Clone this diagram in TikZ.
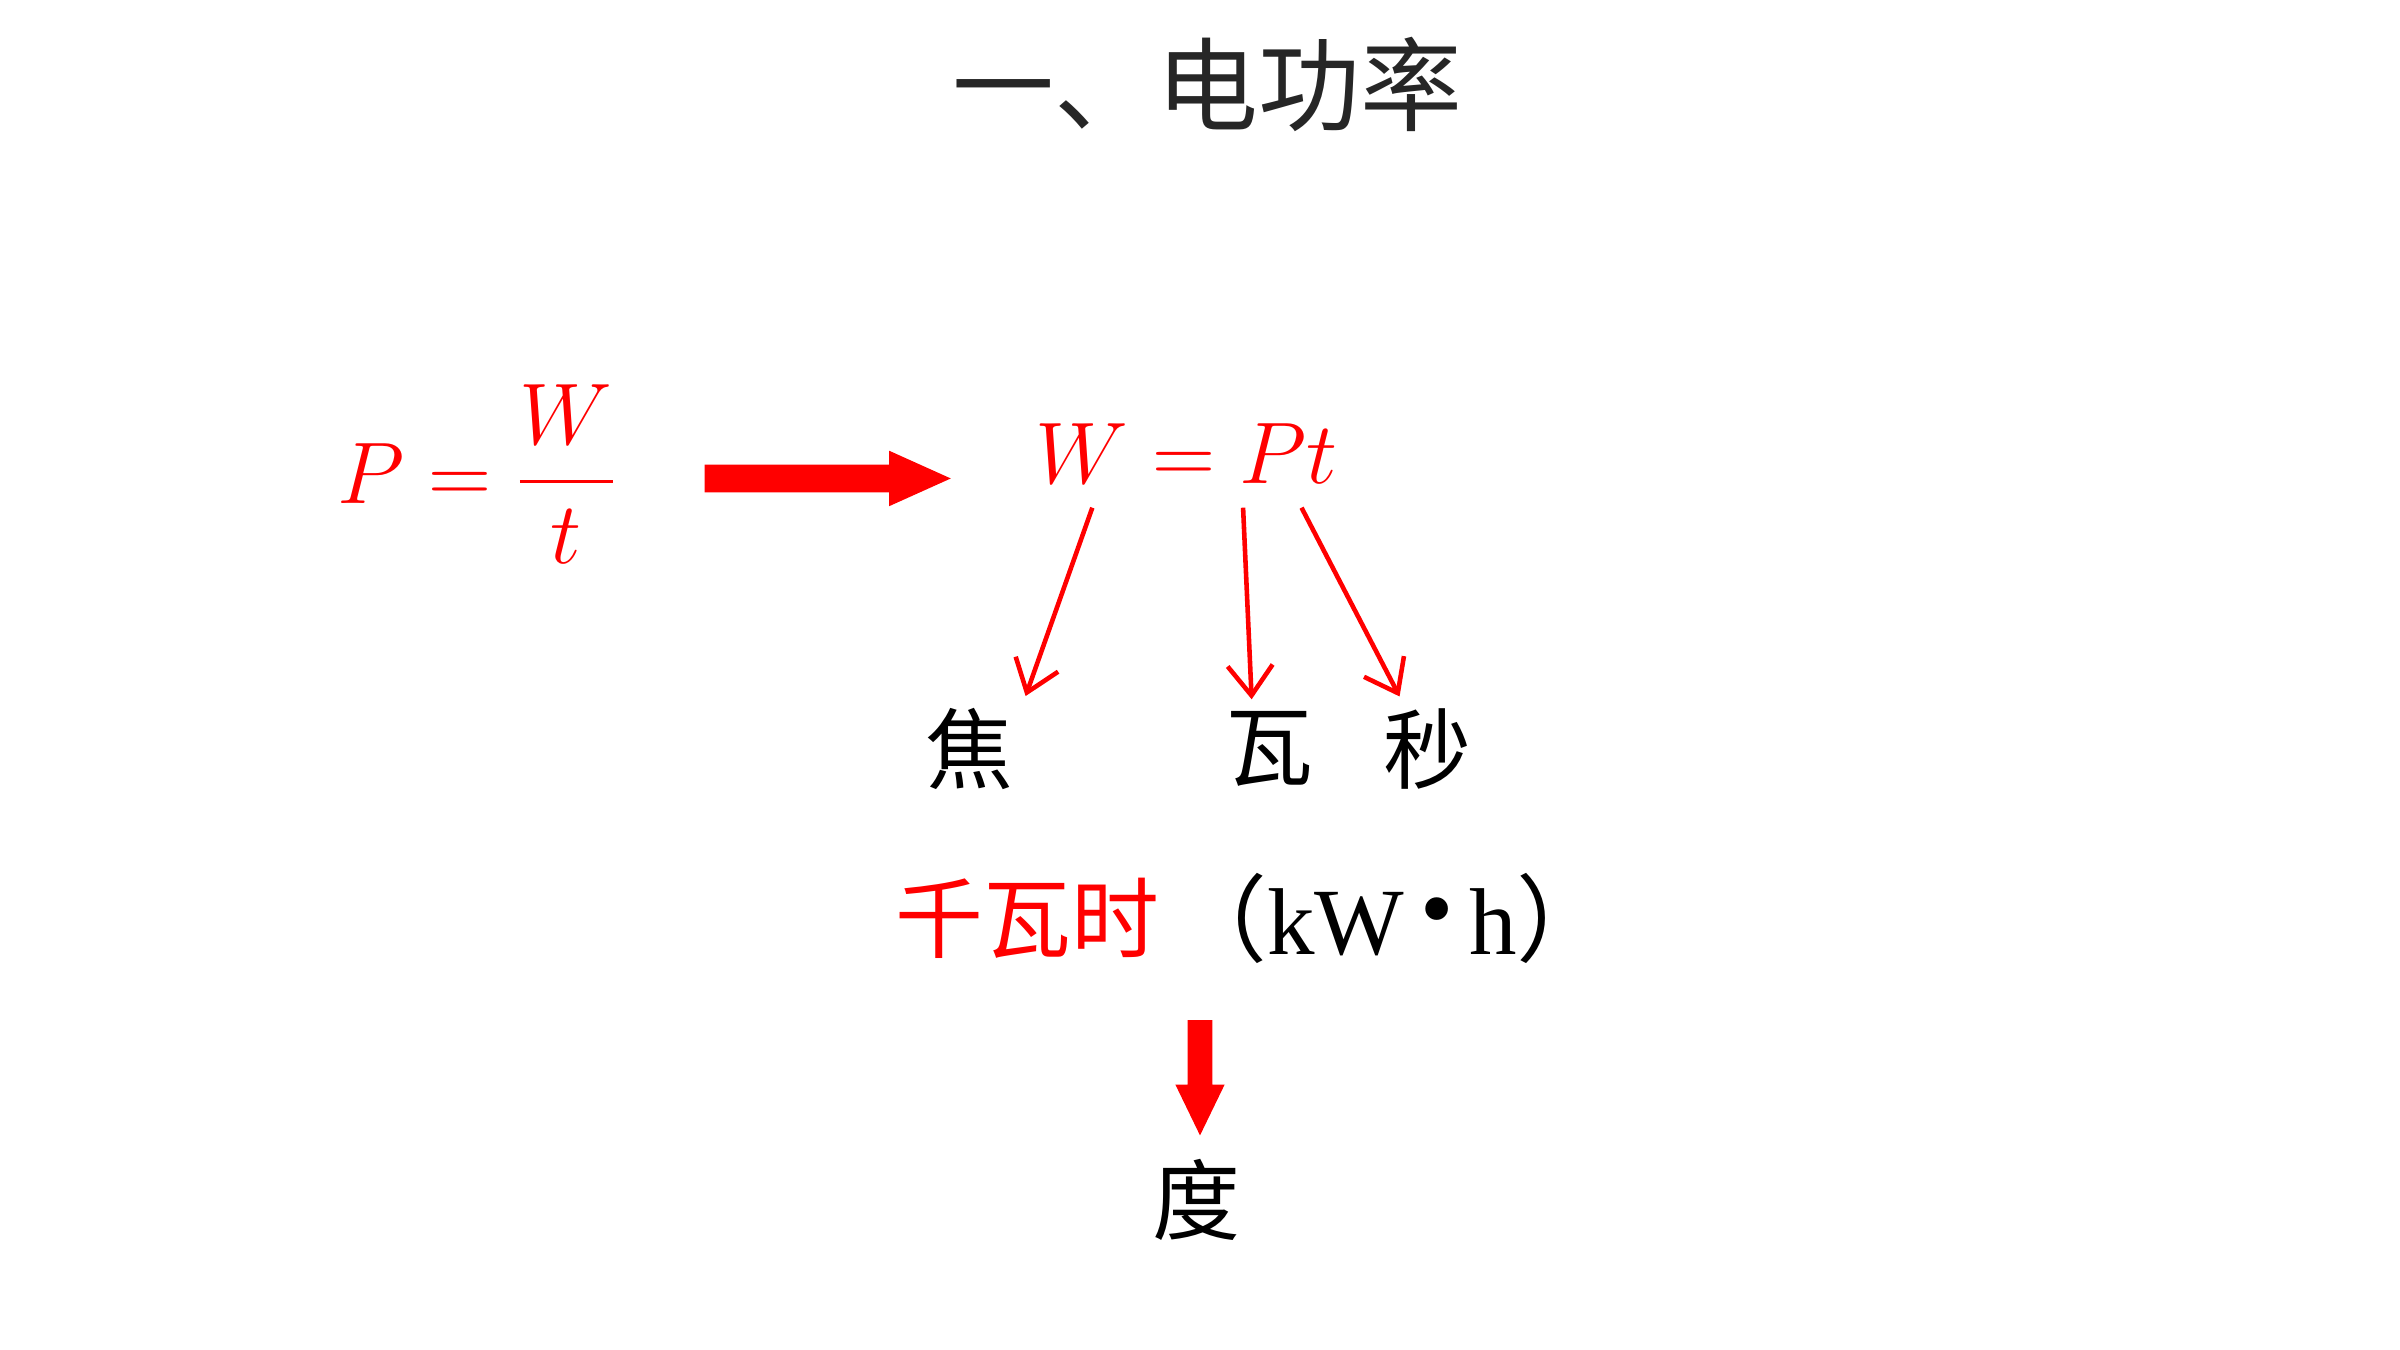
\documentclass[tikz,border=0pt]{standalone}
\usepackage{amsmath}
\usepackage{fontspec}
\setmainfont{Liberation Serif}
\newfontfamily\cjk{Noto Sans CJK SC}
\usetikzlibrary{arrows.meta}
\definecolor{fred}{RGB}{255,0,0}
\definecolor{tgray}{RGB}{38,38,38}
\tikzset{
    cn/.style={font=\cjk\fontsize{25}{25}\selectfont},
    fm/.style={text=fred,font=\fontsize{25}{25}\selectfont},
    thin arrow/.style={fred,line width=1.3pt,-{Straight Barb[length=3mm,width=4.5mm]}},
    fat arrow/.style={fill=fred,draw=none}
}
\begin{document}
\begin{tikzpicture}[x=0.01538cm,y=-0.01538cm]
    \useasboundingbox (0,0) rectangle (1560,877);

    % title
    \node[cn,text=tgray,font=\cjk\fontsize{29}{29}\selectfont] (title) at (785,55) {一、电功率};

    % formulas
    \node[fm] (pdef) at (310,308) {$P=\dfrac{W}{t}$};
    \node[fm] (wdef) at (771,295) {$W=Pt$};

    % big right arrow
    \fill[fat arrow] (458,302) -- (578,302) -- (578,293) -- (618,311)
        -- (578,329) -- (578,320) -- (458,320) -- cycle;

    % units
    \node[cn] (joule) at (630,487) {焦};
    \node[cn] (watt) at (825,487) {瓦};
    \node[cn] (sec) at (928,487) {秒};
    \coordinate (fw) at (710,330);
    \coordinate (fp) at (808,330);
    \coordinate (ft) at (846,330);
    \draw[thin arrow] (fw) -- (joule.north east);
    \draw[thin arrow] (fp) -- ([xshift=-5]watt.north);
    \draw[thin arrow] (ft) -- ([xshift=-8]sec.north);

    % kWh
    \node[cn,text=fred,anchor=west] (kwh) at (574,597) {千瓦时};
    \node[anchor=west,font=\fontsize{27}{27}\selectfont,inner sep=0pt]
        (kwhunit) at (kwh.east) {{\cjk（}kW\,\raisebox{0.15em}{\textbullet}\,h{\cjk）}};

    % down arrow
    \fill[fat arrow] (772,663) -- (788,663) -- (788,705) -- (796,705)
        -- (780,738) -- (764,705) -- (772,705) -- cycle;

    \node[cn] (du) at (778,780) {度};
\end{tikzpicture}
\end{document}
